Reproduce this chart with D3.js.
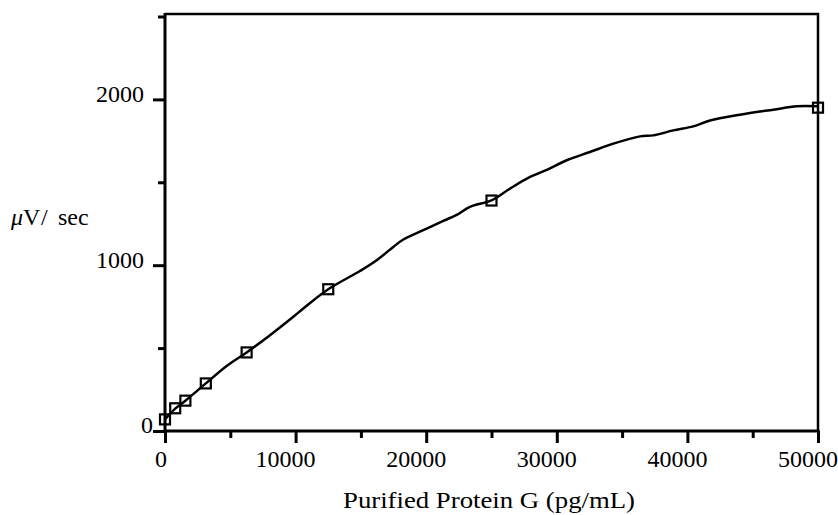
<!DOCTYPE html>
<html>
<head>
<meta charset="utf-8">
<script src="https://cdn.jsdelivr.net/npm/d3@7.9.0/dist/d3.min.js"></script>
<style>
  body { margin: 0; background: #fff; }
  svg text { font-family: "Liberation Serif", "DejaVu Serif", serif; fill: #000; }
</style>
</head>
<body>
<svg id="chart" width="838" height="515"></svg>
<script>
// measured standards (squares)
const stdConc = [0, 781, 1562, 3125, 6250, 12500, 25000, 50000];
const stdSignal = [70, 137, 183, 287, 474, 855, 1390, 1950];

// fitted curve
const curveConc = [0, 781, 1562, 3125, 4720, 6250, 8040, 9825, 10590, 12500, 14930, 16210, 17480,
  18250, 20040, 21310, 22330, 23350, 25000, 26420, 27950, 29230, 30760, 32540, 34330, 36370,
  37390, 38920, 40450, 41730, 44030, 46580, 48370, 50000];
const curveSignal = [70, 135, 183, 287, 392, 474, 578, 689, 739, 855, 965, 1030, 1110,
  1155, 1221, 1267, 1303, 1352, 1391, 1462, 1532, 1575, 1633, 1683, 1733, 1777,
  1783, 1813, 1837, 1873, 1908, 1938, 1958, 1958];

const xTicks = d3.range(0, 50001, 5000);
const yTicks = d3.range(0, 2501, 500);
const xLabels = [0, 10000, 20000, 30000, 40000, 50000];
const yLabels = [0, 1000, 2000];

const svg = d3.select('#chart');
const x = d3.scaleLinear().domain([0, 50000]).range([165, 818]);
const y = d3.scaleLinear().domain([0, 2515]).range([431, 14]);

// top & right edges of the frame
svg.append('path')
  .attr('d', `M${x(0)},${y(2515)}H${x(50000)}V${y(0)}`)
  .attr('fill', 'none')
  .attr('stroke', '#000')
  .attr('stroke-width', 2.5);

// y axis
const yAxis = svg.append('g')
  .attr('transform', `translate(${x(0)},0)`)
  .call(d3.axisLeft(y).tickValues(yTicks).tickFormat('').tickSize(0));
yAxis.select('.domain').remove();
yAxis.append('line').attr('x1', 0).attr('x2', 0).attr('y1', y(2515) - 1).attr('y2', y(0))
  .attr('stroke', '#000').attr('stroke-width', 3);
yAxis.selectAll('.tick line')
  .attr('x2', d => d % 1000 === 0 ? -12 : -7)
  .attr('stroke-width', 3);

// x axis
const xAxis = svg.append('g')
  .attr('transform', `translate(0,${y(0)})`)
  .call(d3.axisBottom(x).tickValues(xTicks).tickFormat('').tickSize(0));
xAxis.select('.domain').remove();
xAxis.append('line').attr('x1', x(0)).attr('x2', x(50000) + 1.5).attr('y1', 0).attr('y2', 0)
  .attr('stroke', '#000').attr('stroke-width', 3);
xAxis.selectAll('.tick line')
  .attr('y2', d => d % 10000 === 0 ? 12 : 7)
  .attr('stroke-width', 3);

// tick labels
svg.append('g').selectAll('text')
  .data(xLabels)
  .join('text')
  .attr('x', d => x(d) + (d === 0 ? -4 : -10))
  .attr('y', 467)
  .attr('text-anchor', 'middle')
  .attr('font-size', 24)
  .text(d => d);

svg.append('g').selectAll('text')
  .data(yLabels)
  .join('text')
  .attr('x', d => d === 0 ? 153 : 144)
  .attr('y', d => y(d) + (d === 0 ? 2 : 3))
  .attr('text-anchor', 'end')
  .attr('font-size', 24)
  .text(d => d);

// axis titles
svg.append('text')
  .attr('x', 343).attr('y', 508)
  .attr('font-size', 24)
  .attr('textLength', 292)
  .attr('lengthAdjust', 'spacingAndGlyphs')
  .text('Purified Protein G (pg/mL)');

const yTitle = svg.append('text')
  .attr('y', 225)
  .attr('font-size', 24);
yTitle.append('tspan').attr('x', 11).attr('font-style', 'italic').text('μ');
yTitle.append('tspan').text('V');
yTitle.append('tspan').attr('x', 41).text('/');
yTitle.append('tspan').attr('x', 58).text('sec');

// curve
const line = d3.line()
  .x((d, i) => x(curveConc[i]))
  .y((d, i) => y(curveSignal[i]))
  .curve(d3.curveCatmullRom);

svg.append('path')
  .datum(curveConc)
  .attr('d', line)
  .attr('fill', 'none')
  .attr('stroke', '#000')
  .attr('stroke-width', 2.5);

// standards
svg.append('g').selectAll('rect')
  .data(stdConc)
  .join('rect')
  .attr('x', d => x(d) - 5)
  .attr('y', (d, i) => y(stdSignal[i]) - 5)
  .attr('width', 10)
  .attr('height', 10)
  .attr('fill', 'none')
  .attr('stroke', '#000')
  .attr('stroke-width', 2.2);
</script>
</body>
</html>
